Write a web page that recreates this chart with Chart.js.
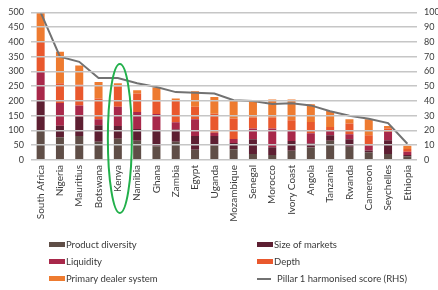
<!DOCTYPE html>
<html>
<head>
<meta charset="utf-8">
<script src="https://cdn.jsdelivr.net/npm/chart.js@4.4.1/dist/chart.umd.min.js"></script>
<style>
  body { margin: 0; background: #fff; }
  #wrap { position: relative; width: 438px; height: 290px; }
  #legend { position: absolute; left: 49px; top: 236px; display: grid; grid-template-columns: 208px 175px;
    font-family: Lato, sans-serif; font-size: 9.5px; color: #3a3a3a; }
  .item { display: flex; align-items: center; height: 17px; white-space: nowrap; }
  .sw { width: 16px; height: 5px; margin-right: 1px; }
  .ln { width: 14px; height: 2px; margin-right: 6px; }
</style>
</head>
<body>
<div id="wrap">
  <canvas id="myChart" width="438" height="290"></canvas>
  <div id="legend"></div>
</div>
<script>
"use strict"
let countries = ['South Africa', 'Nigeria', 'Mauritius', 'Botswana', 'Kenya', 'Namibia', 'Ghana', 'Zambia', 'Egypt',
    'Uganda', 'Mozambique', 'Senegal', 'Morocco', 'Ivory Coast', 'Angola', 'Tanzania', 'Rwanda', 'Cameroon',
    'Seychelles', 'Ethiopia'];
let productDiversity = [100, 77, 81, 62, 72, 65, 47, 62, 35, 48, 36, 20, 17, 31, 42, 65, 45, 26, 20, 13];
let sizeOfMarkets = [100, 39, 65, 56, 43, 40, 53, 41, 46, 33, 22, 50, 26, 33, 14, 19, 25, 6, 47, 4];
let liquidity = [100, 77, 39, 20, 65, 58, 56, 25, 57, 11, 13, 37, 64, 34, 35, 17, 17, 17, 28, 11];
let depth = [100, 67, 71, 70, 69, 62, 42, 74, 42, 65, 70, 37, 37, 37, 38, 11, 37, 35, 12, 9];
let primaryDealer = [100, 107, 64, 56, 11, 11, 48, 6, 53, 56, 59, 57, 61, 70, 60, 54, 14, 54, 8, 11];
let pillarScore = [100, 70, 66.5, 55.5, 55.5, 52, 49.5, 46, 45.5, 45, 40.5, 40, 38, 38.5, 37, 33, 30, 28, 25, 11];

let highlight = 'Kenya';
let ringTop = 325;

let txt = '#3a3a3a';
let gridCol = '#c6c6c6';

function bar(label, data, color) {
    return { type: 'bar', label: label, data: data, backgroundColor: color, order: 1,
        barPercentage: 0.415, categoryPercentage: 1, yAxisID: 'y' };
}

let datasets = [
    bar('Product diversity', productDiversity, '#5f4e47'),
    bar('Size of markets', sizeOfMarkets, '#5d1f32'),
    bar('Liquidity', liquidity, '#a8284a'),
    bar('Depth', depth, '#e9582d'),
    bar('Primary dealer system', primaryDealer, '#ee7b30'),
    { type: 'line', label: 'Pillar 1 harmonised score (RHS)', data: pillarScore, borderColor: '#727272',
        borderWidth: 2, pointRadius: 0, tension: 0, order: 0, yAxisID: 'y1' }
];

// green ring round the highlighted country
let ringPlugin = {
    id: 'ring',
    afterDraw(chart) {
        let ctx = chart.ctx;
        let x = chart.scales.x.getPixelForValue(countries.indexOf(highlight)) + 2;
        let top = chart.scales.y.getPixelForValue(ringTop);
        let bottom = chart.chartArea.bottom + 53;
        ctx.save();
        ctx.strokeStyle = '#22b04b';
        ctx.lineWidth = 2;
        ctx.beginPath();
        ctx.ellipse(x, (top + bottom) / 2, 12, (bottom - top) / 2, 0, 0, 2 * Math.PI);
        ctx.stroke();
        ctx.restore();
    }
};

let ctx = document.getElementById('myChart').getContext('2d');
let myChart = new Chart(ctx, {
    data: { labels: countries, datasets: datasets },
    options: {
        responsive: false,
        animation: false,
        layout: { padding: { top: 12, bottom: 60, left: 0, right: 0 } },
        plugins: { legend: { display: false }, tooltip: { enabled: false } },
        scales: {
            x: {
                stacked: true,
                grid: { display: false, drawTicks: false },
                border: { display: false },
                ticks: { minRotation: 90, maxRotation: 90, autoSkip: false, padding: 5, color: txt,
                    font: { family: 'Lato', size: 10 } },
                afterFit(scale) { scale.height = 70; }
            },
            y: {
                stacked: true, min: 0, max: 500,
                grid: { color: gridCol, lineWidth: 1.5, drawTicks: false, z: 1 },
                border: { display: false },
                ticks: { stepSize: 50, padding: 7, color: txt, font: { family: 'Lato', size: 9 } },
                afterFit(scale) { scale.width = 31; }
            },
            y1: {
                position: 'right', min: 0, max: 100,
                grid: { display: false, drawTicks: false },
                border: { display: false },
                ticks: { stepSize: 10, padding: 7, color: txt, font: { family: 'Lato', size: 9 } },
                afterFit(scale) { scale.width = 21; }
            }
        }
    },
    plugins: [ringPlugin]
});

// legend in two columns, like the original
let legend = document.getElementById('legend');
for (let i = 0; i < datasets.length; i++) {
    let d = datasets[i];
    let item = document.createElement('div');
    item.className = 'item';
    let mark = document.createElement('span');
    if (d.type == 'line') {
        mark.className = 'ln';
        mark.style.background = d.borderColor;
    } else {
        mark.className = 'sw';
        mark.style.background = d.backgroundColor;
    }
    let label = document.createElement('span');
    label.textContent = d.label;
    item.appendChild(mark);
    item.appendChild(label);
    legend.appendChild(item);
}
</script>
</body>
</html>
